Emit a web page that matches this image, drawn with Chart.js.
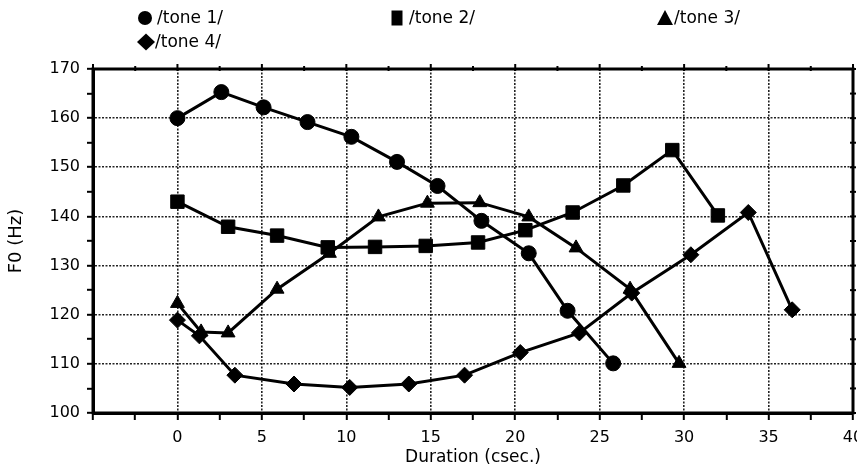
<!DOCTYPE html>
<html>
<head>
<meta charset="utf-8">
<script src="https://cdn.jsdelivr.net/npm/chart.js@4/dist/chart.umd.min.js"></script>
<style>
  body { margin: 0; background: #fff; }
  #wrap { width: 857px; height: 469px; position: relative; }
</style>
</head>
<body>
<div id="wrap"><canvas id="f0chart"></canvas></div>
<script>
// values (duration in csec., F0 in Hz)
var tone1X = [0, 2.6, 5.1, 7.7, 10.3, 13.0, 15.4, 18.0, 20.8, 23.1, 25.8];
var tone1Y = [160, 165.3, 162.2, 159.2, 156.2, 151.1, 146.2, 139.1, 132.5, 120.8, 110.1];

var tone2X = [0, 3.0, 5.9, 8.9, 11.7, 14.7, 17.8, 20.6, 23.4, 26.4, 29.3, 32.0];
var tone2Y = [143, 137.9, 136.1, 133.7, 133.8, 134, 134.7, 137.2, 140.8, 146.3, 153.5, 140.2];

var tone3X = [0, 1.4, 3.0, 5.9, 9.0, 11.9, 14.8, 17.9, 20.8, 23.6, 26.8, 29.7];
var tone3Y = [122.3, 116.5, 116.3, 125.2, 132.5, 139.9, 142.7, 142.8, 139.9, 133.6, 125.2, 110.1];

var tone4X = [0, 1.3, 3.4, 6.9, 10.2, 13.7, 17.0, 20.3, 23.8, 26.9, 30.4, 33.8, 36.4];
var tone4Y = [118.9, 115.7, 107.7, 105.9, 105.2, 105.9, 107.7, 112.3, 116.3, 124.4, 132.2, 140.8, 121.0];

var toneLabels = ["/tone 1/", "/tone 2/", "/tone 3/", "/tone 4/"];
var toneStyles = ["circle", "rect", "triangle", "rectRot"];
var toneRadius = [7.5, 9.5, 8, 8];

var xTicks = { min: -5, max: 40, step: 2.5 };
var yTicks = { min: 100, max: 170, step: 5 };

function toPoints(xs, ys)
{
    var pts = [];
    for (var i = 0; i < xs.length; i++) {
        pts.push({x: xs[i], y: ys[i]});
    }
    return pts;
}

var allX = [tone1X, tone2X, tone3X, tone4X];
var allY = [tone1Y, tone2Y, tone3Y, tone4Y];
var datasets = [];
for (var i = 0; i < 4; i++) {
    datasets.push({
        label: toneLabels[i],
        data: toPoints(allX[i], allY[i]),
        showLine: true,
        borderColor: "#000",
        backgroundColor: "#000",
        borderWidth: 3,
        pointStyle: toneStyles[i],
        pointRadius: toneRadius[i],
        pointBackgroundColor: "#000",
        pointBorderColor: "#000",
        pointBorderWidth: 1
    });
}

// legend spots, as in the figure
var legendPos = [
    {x: 145, y: 18},
    {x: 397, y: 18},
    {x: 665, y: 18},
    {x: 146, y: 42}
];

var framePlugin = {
    id: "frame",
    beforeDatasetsDraw: function(chart)
    {
        var ctx = chart.ctx;
        var a = chart.chartArea;
        var xs = chart.scales.x, ys = chart.scales.y;
        ctx.save();
        ctx.strokeStyle = "#000";
        ctx.lineWidth = 2;
        // small ticks on the top and right edges
        xs.ticks.forEach(function(t) {
            var px = xs.getPixelForValue(t.value);
            var len = (t.value % 5 === 0) ? 5 : 3;
            ctx.beginPath();
            ctx.moveTo(px, a.top - len);
            ctx.lineTo(px, a.top + 2);
            ctx.stroke();
        });
        ys.ticks.forEach(function(t) {
            var py = ys.getPixelForValue(t.value);
            ctx.beginPath();
            ctx.moveTo(a.right - 3, py);
            ctx.lineTo(a.right + 3, py);
            ctx.stroke();
        });
        ctx.lineWidth = 3;
        ctx.strokeRect(a.left, a.top, a.right - a.left, a.bottom - a.top);
        ctx.restore();
    },
    afterDraw: function(chart)
    {
        var ctx = chart.ctx;
        ctx.save();
        ctx.fillStyle = "#000";
        ctx.font = "17px 'DejaVu Sans'";
        ctx.textBaseline = "middle";
        ctx.textAlign = "left";
        chart.data.datasets.forEach(function(ds, i) {
            var p = legendPos[i];
            var r = 7;
            ctx.beginPath();
            if (ds.pointStyle === "circle") {
                ctx.arc(p.x, p.y, r, 0, Math.PI * 2);
            } else if (ds.pointStyle === "rect") {
                ctx.rect(p.x - 5.5, p.y - 7.5, 11, 15);
            } else if (ds.pointStyle === "triangle") {
                ctx.moveTo(p.x, p.y - 8);
                ctx.lineTo(p.x + 8, p.y + 7);
                ctx.lineTo(p.x - 8, p.y + 7);
                ctx.closePath();
            } else {
                ctx.moveTo(p.x, p.y - 8.5);
                ctx.lineTo(p.x + 9, p.y);
                ctx.lineTo(p.x, p.y + 8.5);
                ctx.lineTo(p.x - 9, p.y);
                ctx.closePath();
            }
            ctx.fill();
            ctx.fillText(ds.label, p.x + (i === 0 || i === 1 ? 12 : 9), p.y + 1);
        });
        ctx.restore();
    }
};

new Chart(document.getElementById("f0chart"), {
    type: "scatter",
    data: { datasets: datasets },
    plugins: [framePlugin],
    options: {
        responsive: true,
        maintainAspectRatio: false,
        animation: false,
        layout: { autoPadding: false, padding: { top: 69, right: 4, left: 0, bottom: 0 } },
        plugins: {
            legend: { display: false },
            tooltip: { enabled: false }
        },
        scales: {
            x: {
                type: "linear",
                min: xTicks.min,
                max: xTicks.max,
                afterFit: function(s) { s.height = 56; s.paddingRight = 0; s.paddingLeft = 0; },
                ticks: {
                    stepSize: xTicks.step,
                    autoSkip: false,
                    maxRotation: 0,
                    padding: 8,
                    color: "#000",
                    font: { family: "DejaVu Sans", size: 16 },
                    callback: function(v) { return (v % 5 === 0 && v >= 0) ? v : ""; }
                },
                grid: {
                    color: function(c) { return (c.tick && c.tick.value % 5 === 0) ? "#222" : "rgba(0,0,0,0)"; },
                    lineWidth: 1.6,
                    tickColor: "#000",
                    tickWidth: 2,
                    tickLength: 7
                },
                border: { display: true, color: "#000", width: 3, dash: [2, 1.5] },
                title: {
                    display: true,
                    text: "Duration (csec.)",
                    color: "#000",
                    font: { family: "DejaVu Sans", size: 17 },
                    padding: { top: 0, bottom: 1 }
                }
            },
            y: {
                min: yTicks.min,
                max: yTicks.max,
                afterFit: function(s) { s.width = 93; },
                ticks: {
                    stepSize: yTicks.step,
                    autoSkip: false,
                    padding: 7,
                    color: "#000",
                    font: { family: "DejaVu Sans", size: 16 },
                    callback: function(v) { return (v % 10 === 0) ? v : ""; }
                },
                grid: {
                    color: function(c) { return (c.tick && c.tick.value % 10 === 0) ? "#222" : "rgba(0,0,0,0)"; },
                    lineWidth: 1.6,
                    tickColor: "#000",
                    tickWidth: 2,
                    tickLength: 6
                },
                border: { display: true, color: "#000", width: 3, dash: [2, 1.5] },
                title: {
                    display: true,
                    text: "F0 (Hz)",
                    color: "#000",
                    font: { family: "DejaVu Sans", size: 18 },
                    padding: { top: 6, bottom: 0 }
                }
            }
        }
    }
});
</script>
</body>
</html>
